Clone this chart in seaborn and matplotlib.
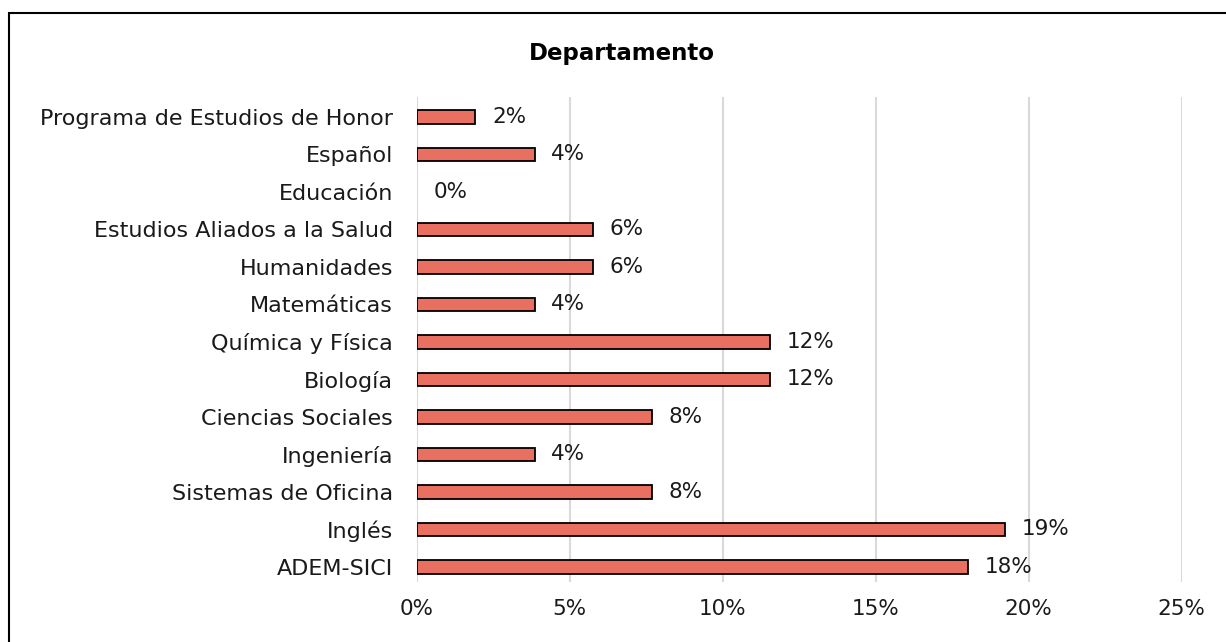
import matplotlib
matplotlib.use("Agg")
import matplotlib.pyplot as plt
import seaborn as sns
import pandas as pd

# Data (percent)
departamentos = [
    "Programa de Estudios de Honor", "Español", "Educación",
    "Estudios Aliados a la Salud", "Humanidades", "Matemáticas",
    "Química y Física", "Biología", "Ciencias Sociales", "Ingeniería",
    "Sistemas de Oficina", "Inglés", "ADEM-SICI",
]
porcentajes = [1.92, 3.85, 0.0, 5.77, 5.77, 3.85, 11.54, 11.54, 7.69, 3.85, 7.69, 19.23, 18.0]
etiquetas = ["2%", "4%", "0%", "6%", "6%", "4%", "12%", "12%", "8%", "4%", "8%", "19%", "18%"]
ticks_x = [0, 5, 10, 15, 20, 25]

sns.set_theme(style="white")
plt.rcParams["font.family"] = ["DejaVu Sans"]

df = pd.DataFrame({"dep": departamentos, "pct": porcentajes})

fig = plt.figure(figsize=(12.26, 6.42), dpi=100)
ax = fig.add_axes([0.3399, 0.0935, 0.6240, 0.7554])

sns.barplot(data=df, x="pct", y="dep", order=departamentos, color="#E97060",
            saturation=1, width=0.37, edgecolor="black", linewidth=1.3, ax=ax)

# zero-length bars: no outline
for p in ax.patches:
    if p.get_width() == 0:
        p.set_linewidth(0)

for i, (v, lab) in enumerate(zip(porcentajes, etiquetas)):
    ax.annotate(lab, (v, i), xytext=(12, 0), textcoords="offset points",
                va="center", ha="left", fontsize=15.5, color="#1a1a1a")

ax.set_xlim(0, 25)
ax.set_ylim(12.4, -0.533)
ax.set_xticks(ticks_x)
ax.set_xticklabels([f"{t}%" for t in ticks_x], fontsize=15.5, color="#1a1a1a")
ax.tick_params(axis="y", labelsize=16, labelcolor="#1a1a1a", pad=17, length=0)
ax.tick_params(axis="x", pad=12, length=0)
ax.set_xlabel("")
ax.set_ylabel("")
ax.grid(axis="x", color="#d9d9d9", linewidth=1.5)
ax.set_axisbelow(True)
for s in ax.spines.values():
    s.set_visible(False)

fig.text(0.5073, 0.917, "Departamento", ha="center", va="center",
         fontsize=16.5, fontweight="bold", color="black")

# outer chart frame
frame = plt.Rectangle((9 / 1226, -0.05), 1.1, 1 - 12.5 / 642 + 0.05,
                      transform=fig.transFigure, fill=False,
                      edgecolor="black", linewidth=1.5)
fig.add_artist(frame)

fig.savefig("out.png", dpi=100)
